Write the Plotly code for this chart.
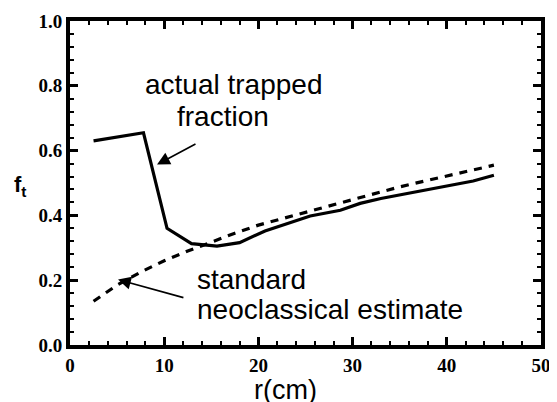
import plotly.graph_objects as go

# Data
r_actual = [2.5, 7.8, 10.3, 12.9, 15.6, 18.0, 20.7, 23.0, 25.5, 28.7, 30.8, 33.0, 37.2, 40.0, 42.8, 45.0]
ft_actual = [0.63, 0.655, 0.36, 0.313, 0.305, 0.316, 0.352, 0.375, 0.398, 0.416, 0.437, 0.452, 0.476, 0.49, 0.506, 0.524]

r_neo = [2.5, 5.0, 7.5, 10.0, 12.5, 15.0, 17.5, 20.0, 22.5, 25.0, 27.5, 30.0, 32.5, 35.0, 37.5, 40.0, 42.5, 45.0]
ft_neo = [0.135, 0.185, 0.225, 0.26, 0.29, 0.318, 0.345, 0.37, 0.39, 0.41, 0.43, 0.45, 0.47, 0.488, 0.505, 0.522, 0.538, 0.555]

x_ticks = [0, 10, 20, 30, 40, 50]
y_ticks = [0.0, 0.2, 0.4, 0.6, 0.8, 1.0]

fig = go.Figure()
fig.add_trace(go.Scatter(x=r_neo, y=ft_neo, mode="lines",
                         line=dict(color="black", width=3.2, dash="8px,7px")))
fig.add_trace(go.Scatter(x=r_actual, y=ft_actual, mode="lines",
                         line=dict(color="black", width=3.2)))

tickfont = dict(family="Liberation Serif", size=19, color="black", weight="bold")
axis_common = dict(showline=True, linewidth=4, linecolor="black", mirror="ticks",
                   ticks="inside", ticklen=8, tickwidth=3, tickcolor="black",
                   showgrid=False, zeroline=False, tickfont=tickfont, automargin=False)

fig.update_xaxes(range=[0, 50], tickvals=x_ticks, ticktext=[str(v) for v in x_ticks],
                 minor=dict(ticks="inside", dtick=2, ticklen=4, tickwidth=2, tickcolor="black"),
                 **axis_common)
fig.update_yaxes(range=[0, 1], tickvals=y_ticks, ticktext=["%.1f" % v for v in y_ticks],
                 minor=dict(ticks="inside", dtick=0.04, ticklen=4, tickwidth=2, tickcolor="black"),
                 **axis_common)

annfont = dict(family="Liberation Sans", size=28, color="black")
fig.add_annotation(x=17.4, y=0.804, text="actual trapped", showarrow=False, font=annfont,
                   xanchor="center", yanchor="middle")
fig.add_annotation(x=16.2, y=0.705, text="fraction", showarrow=False, font=annfont,
                   xanchor="center", yanchor="middle")
fig.add_annotation(x=13.3, y=0.202, text="standard", showarrow=False, font=annfont,
                   xanchor="left", yanchor="middle")
fig.add_annotation(x=13.3, y=0.111, text="neoclassical estimate", showarrow=False, font=annfont,
                   xanchor="left", yanchor="middle")

# arrows
fig.add_annotation(x=9.24, y=0.557, ax=13.48, ay=0.623, axref="x", ayref="y", text="",
                   showarrow=True, arrowhead=2, arrowsize=1.6, arrowwidth=1.6, arrowcolor="black")
fig.add_annotation(x=5.1, y=0.202, ax=12.2, ay=0.145, axref="x", ayref="y", text="",
                   showarrow=True, arrowhead=2, arrowsize=1.6, arrowwidth=1.6, arrowcolor="black")

# axis titles
fig.add_annotation(xref="paper", yref="paper", x=-0.106, y=0.49, text="<b>f<sub>t</sub></b>",
                   showarrow=False, font=dict(family="Liberation Sans", size=22, color="black"),
                   xanchor="center", yanchor="middle")
fig.add_annotation(xref="paper", yref="paper", x=0.458, y=-0.14, text="r(cm)",
                   showarrow=False, font=dict(family="Liberation Sans", size=27, color="black"),
                   xanchor="center", yanchor="middle")

fig.update_layout(width=557, height=402, margin=dict(l=62, r=24, t=13, b=65),
                  plot_bgcolor="white", paper_bgcolor="white", showlegend=False)

fig.write_html("out.html", config={"displayModeBar": False})
